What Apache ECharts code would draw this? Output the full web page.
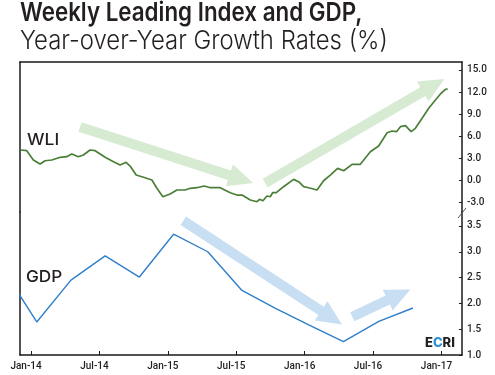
<!DOCTYPE html>
<html>
<head>
<meta charset="utf-8">
<script src="https://cdn.jsdelivr.net/npm/echarts@6/dist/echarts.min.js"></script>
<style>html,body{margin:0;padding:0;background:#fff}#c{width:495px;height:375px}</style>
</head>
<body>
<div id="c"></div>
<script>
// x positions are months since Jan 2014
var tickMonths = [0, 6, 12, 18, 24, 30, 36];
var tickLabels = ['Jan-14', 'Jul-14', 'Jan-15', 'Jul-15', 'Jan-16', 'Jul-16', 'Jan-17'];
var wliTicks = [-3, 0, 3, 6, 9, 12, 15];
var gdpTicks = [1.0, 1.5, 2.0, 2.5, 3.0, 3.5];

var wliMonths = [-0.90, -0.38, 0.20, 0.79, 1.23, 1.82, 2.55, 3.13, 3.57, 4.15, 4.59, 5.18, 5.62, 6.50, 7.23, 7.81, 8.34, 8.69, 9.22, 9.86,
  10.60, 11.04, 11.56, 12.20, 12.79, 13.52, 13.96, 14.55, 15.19, 15.72, 16.59, 17.47, 18.06, 18.50, 19.23, 19.38, 19.82, 20.04, 20.34, 20.69,
  20.98, 21.19, 21.51, 22.15, 23.03, 23.47, 23.91, 24.35, 25.08, 25.66, 26.25, 26.89, 27.42, 28.16, 28.88, 29.76, 30.49, 31.23, 31.67, 32.05,
  32.40, 32.84, 33.34, 33.71, 34.30, 34.88, 35.47, 35.91, 36.35, 36.55];
var wliValues = [4.09, 4.00, 2.73, 2.18, 2.63, 2.73, 3.10, 3.18, 3.55, 3.18, 3.41, 4.09, 4.00, 3.10, 2.50, 2.05, 2.41, 1.91, 0.68, 0.37,
  0.00, -1.13, -2.28, -1.91, -1.36, -1.36, -1.13, -1.05, -0.82, -1.05, -1.05, -1.73, -2.05, -2.05, -2.73, -2.96, -2.96, -2.63, -2.82, -2.18,
  -2.28, -1.73, -1.73, -0.91, 0.09, -0.23, -0.91, -1.05, -1.36, -0.10, 0.68, 1.59, 1.27, 2.14, 2.14, 3.86, 4.64, 6.45, 6.68, 6.59,
  7.27, 7.41, 6.59, 7.05, 8.41, 9.78, 10.91, 11.73, 12.37, 12.41];

var gdpMonths = [-2.5, 0.5, 3.5, 6.5, 9.5, 12.5, 15.5, 18.5, 21.4, 24.4, 27.4, 30.5, 33.5];
var gdpValues = [2.68, 1.64, 2.45, 2.92, 2.51, 3.34, 3.00, 2.25, 1.91, 1.58, 1.26, 1.65, 1.91];

// trend arrows (data coordinates of the series they annotate)
var arrowSeries = [0, 0, 1, 1];
var arrowStart = [[4.30, 7.23], [20.54, -0.41], [13.35, 3.60], [28.18, 1.74]];
var arrowEnd = [[19.49, -0.41], [36.26, 13.77], [27.28, 1.59], [33.27, 2.27]];
var arrowColors = ['#d7ebd3', '#d7ebd3', '#c8dff3', '#c8dff3'];

var xMin = -0.97, xMax = 37.8;
var axisColor = '#1a1a1a';
var textColor = '#231f20';
var font = 'Inter';
var small = 'Roboto';

function pair(xs, ys) { return xs.map(function (x, i) { return [x, ys[i]]; }); }

var lineOnly = {
  axisLine: { show: true, onZero: false, lineStyle: { color: axisColor, width: 1.5 } },
  axisTick: { show: false }, axisLabel: { show: false }, splitLine: { show: false }
};

var chart = echarts.init(document.getElementById('c'), null, { renderer: 'canvas' });
var option = {
  animation: false,
  backgroundColor: '#fff',
  grid: [
    { left: 20, right: 33, top: 62, height: 150 },
    { left: 20, right: 33, top: 212, height: 143 }
  ],
  xAxis: [
    Object.assign({ gridIndex: 0, type: 'value', min: xMin, max: xMax, position: 'top' }, lineOnly),
    { gridIndex: 1, type: 'value', min: xMin, max: xMax, position: 'bottom',
      axisLine: { show: true, onZero: false, lineStyle: { color: axisColor, width: 1.5 } },
      axisTick: { show: true, inside: true, length: 4, customValues: tickMonths, lineStyle: { color: axisColor } },
      axisLabel: { customValues: tickMonths, margin: 6, padding: [0, 10, 0, 0], fontFamily: small, fontSize: 10,
        fontWeight: 500, color: textColor,
        formatter: function (v) { var i = tickMonths.indexOf(Math.round(v)); return i >= 0 ? tickLabels[i] : ''; } },
      splitLine: { show: false } }
  ],
  yAxis: [
    { gridIndex: 0, type: 'value', position: 'right', min: -4.36, max: 16.09,
      axisLine: { show: true, onZero: false, lineStyle: { color: axisColor, width: 1.5 } },
      axisTick: { show: true, inside: true, length: 3, customValues: wliTicks, lineStyle: { color: axisColor } },
      axisLabel: { customValues: wliTicks, margin: 5, fontFamily: small, fontSize: 10, fontWeight: 500, color: textColor,
        formatter: function (v) { return v.toFixed(1); } },
      splitLine: { show: false } },
    { gridIndex: 1, type: 'value', position: 'right', min: 1.0, max: 3.77,
      axisLine: { show: true, onZero: false, lineStyle: { color: axisColor, width: 1.5 } },
      axisTick: { show: true, inside: true, length: 3, customValues: gdpTicks, lineStyle: { color: axisColor } },
      axisLabel: { customValues: gdpTicks, margin: 5, fontFamily: small, fontSize: 10, fontWeight: 500, color: textColor,
        formatter: function (v) { return v.toFixed(1); } },
      splitLine: { show: false } },
    Object.assign({ gridIndex: 0, type: 'value', position: 'left', min: -4.36, max: 16.09 }, lineOnly),
    Object.assign({ gridIndex: 1, type: 'value', position: 'left', min: 1.0, max: 3.77 }, lineOnly)
  ],
  series: [
    { name: 'WLI', type: 'line', xAxisIndex: 0, yAxisIndex: 0, data: pair(wliMonths, wliValues),
      showSymbol: false, lineStyle: { color: '#4a7f37', width: 1.7 }, z: 3 },
    { name: 'GDP', type: 'line', xAxisIndex: 1, yAxisIndex: 1, data: pair(gdpMonths, gdpValues),
      showSymbol: false, lineStyle: { color: '#2f7fc9', width: 1.4 }, z: 3 }
  ]
};
chart.setOption(option);

function arrowPoints(p0, p1, sw, hw, hl) {
  var dx = p1[0] - p0[0], dy = p1[1] - p0[1], L = Math.sqrt(dx * dx + dy * dy);
  var ux = dx / L, uy = dy / L, nx = -uy, ny = ux;
  var bx = p1[0] - ux * hl, by = p1[1] - uy * hl;
  return [
    [p0[0] + nx * sw / 2, p0[1] + ny * sw / 2],
    [bx + nx * sw / 2, by + ny * sw / 2],
    [bx + nx * hw / 2, by + ny * hw / 2],
    [p1[0], p1[1]],
    [bx - nx * hw / 2, by - ny * hw / 2],
    [bx - nx * sw / 2, by - ny * sw / 2],
    [p0[0] - nx * sw / 2, p0[1] - ny * sw / 2]
  ];
}

var elements = [];
arrowStart.forEach(function (s, i) {
  var f = { seriesIndex: arrowSeries[i] };
  var p0 = chart.convertToPixel(f, s);
  var p1 = chart.convertToPixel(f, arrowEnd[i]);
  elements.push({ type: 'polygon', z: 1, silent: true,
    shape: { points: arrowPoints(p0, p1, 10, 23, 25) }, style: { fill: arrowColors[i] } });
});
elements.push({ type: 'text', x: 20, y: 0, scaleX: 0.86, z: 10,
  style: { text: 'Weekly Leading Index and GDP,', fontFamily: font, fontSize: 26, fontWeight: 600, fill: textColor } });
elements.push({ type: 'text', x: 20, y: 28, scaleX: 0.92, z: 10,
  style: { text: 'Year-over-Year Growth Rates (%)', fontFamily: font, fontSize: 26, fontWeight: 300, fill: textColor } });
elements.push({ type: 'text', x: 27, y: 132, scaleX: 1.06, z: 10,
  style: { text: 'WLI', fontFamily: font, fontSize: 16.5, fontWeight: 500, fill: textColor } });
elements.push({ type: 'text', x: 26, y: 269, scaleX: 1.04, z: 10,
  style: { text: 'GDP', fontFamily: font, fontSize: 16.5, fontWeight: 500, fill: textColor } });
elements.push({ type: 'text', x: 425, y: 337, z: 10,
  style: { text: '{a|E}{b|C}{a|RI}', rich: {
    a: { fontFamily: font, fontSize: 13, fontWeight: 800, fill: '#231f20', color: '#231f20' },
    b: { fontFamily: font, fontSize: 13, fontWeight: 800, fill: '#2b8fd6', color: '#2b8fd6' } } } });
elements.push({ type: 'line', z: 10, shape: { x1: 458, y1: 218, x2: 466, y2: 208 },
  style: { stroke: '#555', lineWidth: 1 } });
chart.setOption({ graphic: { elements: elements } });
</script>
</body>
</html>
